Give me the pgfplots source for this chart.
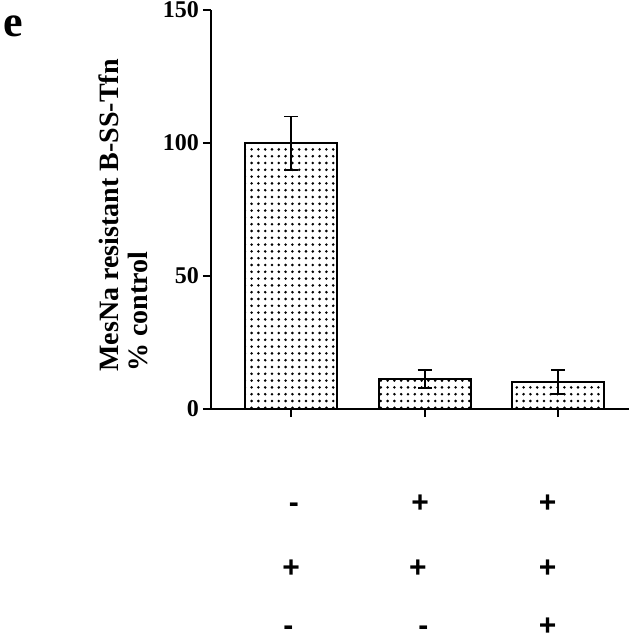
\documentclass[border=0pt]{standalone}
\usepackage{pgfplots}
\pgfplotsset{compat=1.18}
\usepackage{fontspec}
\setmainfont{Liberation Serif}
\newfontfamily\signfont{Liberation Sans}
\usetikzlibrary{patterns}

% coarser dot screen, like the printed figure
\pgfdeclarepatternformonly{bigdots}{\pgfqpoint{-1pt}{-1pt}}{\pgfqpoint{1pt}{1pt}}{\pgfqpoint{3.4pt}{3.4pt}}{%
  \pgfpathcircle{\pgfqpoint{0pt}{0pt}}{.72pt}\pgfusepath{fill}}

\pgfplotstableread{
x   y     err
0   100   10
1   11.3  3.4
2   10.2  4.5
}\mesna

\begin{document}
\begin{tikzpicture}
\begin{axis}[
    at={(0,0)}, anchor=south west,
    scale only axis,
    width=209pt, height=199.5pt,
    xmin=-0.6, xmax=2.53,
    ymin=0, ymax=150,
    axis x line=bottom, axis y line=left,
    axis line style={-, line width=1pt},
    every tick/.style={black, line width=1pt},
    tick align=outside,
    major tick length=4pt,
    xtick={0,1,2}, xticklabels={},
    ytick={0,50,100,150},
    /pgf/number format/assume math mode=true,
    yticklabel style={font=\bfseries\fontsize{12}{12}\selectfont, xshift=1.5pt},
    ylabel={MesNa resistant B-SS-Tfn\\\% control},
    ylabel style={font=\bfseries\fontsize{14}{14.5}\selectfont, align=left,
        at={(axis description cs:-0.21,0.093)}, anchor=west, inner sep=0pt},
    clip=false,
]
\addplot[ybar, bar width=0.69, draw=black, line width=1pt,
    pattern=bigdots, pattern color=black,
    error bars/.cd, y dir=both, y explicit,
    error bar style={line width=0.9pt, black},
    error mark options={rotate=90, mark size=3.5pt, line width=0.9pt, black}]
    table[x=x, y=y, y error=err] {\mesna};

\begin{scope}[every node/.style={font=\signfont\bfseries\fontsize{15}{15}\selectfont, inner sep=0pt, anchor=base}]
\node at ([yshift=-51.5pt]axis cs:0.02,0) {-};
\node at ([yshift=-51.5pt]axis cs:0.966,0) {+};
\node at ([yshift=-51.5pt]axis cs:1.92,0) {+};
\node at ([yshift=-84pt]axis cs:0,0) {+};
\node at ([yshift=-84pt]axis cs:0.95,0) {+};
\node at ([yshift=-84pt]axis cs:1.92,0) {+};
\node at ([yshift=-113pt]axis cs:-0.02,0) {-};
\node at ([yshift=-113pt]axis cs:0.99,0) {-};
\node at ([yshift=-113pt]axis cs:1.92,0) {+};
\end{scope}
\end{axis}
\node[anchor=north west, inner sep=0pt, font=\bfseries\fontsize{22}{22}\selectfont]
    at (-104pt,197pt) {e};
\pgfresetboundingbox
\path (-105.5pt,-115pt) rectangle (209pt,204.5pt);
\end{tikzpicture}
\end{document}
